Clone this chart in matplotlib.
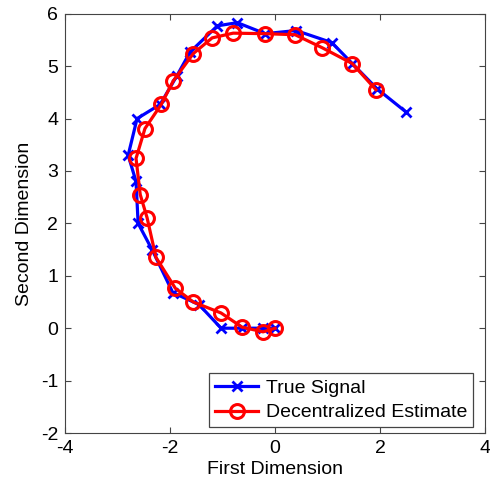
import matplotlib
matplotlib.use("Agg")
import matplotlib.pyplot as plt

# True signal (blue x markers)
true_x = [0.0, -0.23, -0.63, -1.03, -1.45, -1.95, -2.34, -2.61, -2.65, -2.8,
          -2.63, -2.19, -1.87, -1.62, -1.1, -0.72, -0.19, 0.4, 1.08, 1.47, 1.94, 2.5]
true_y = [0.0, 0.0, 0.0, 0.0, 0.45, 0.68, 1.49, 2.0, 2.8, 3.3,
          4.0, 4.27, 4.82, 5.27, 5.77, 5.83, 5.62, 5.68, 5.45, 5.05, 4.57, 4.12]

# Decentralized estimate (red circles)
est_x = [0.0, -0.23, -0.63, -1.03, -1.56, -1.9, -2.27, -2.44, -2.57, -2.65,
         -2.48, -2.17, -1.94, -1.56, -1.2, -0.8, -0.19, 0.38, 0.9, 1.47, 1.92]
est_y = [0.0, -0.07, 0.02, 0.29, 0.5, 0.76, 1.35, 2.11, 2.55, 3.24,
         3.81, 4.27, 4.72, 5.24, 5.54, 5.63, 5.62, 5.6, 5.35, 5.05, 4.55]

plt.rcParams['font.family'] = ['Liberation Sans', 'DejaVu Sans']
plt.rcParams['axes.unicode_minus'] = False

fig = plt.figure(figsize=(4.9, 4.83), dpi=100)
ax = fig.add_axes([0.133, 0.1035, 0.857, 0.868])

ax.plot(true_x, true_y, '-x', color='#0000ff', lw=2.3, ms=7, mew=2.0, label='True Signal')
ax.plot(est_x, est_y, '-o', color='#ff0000', lw=2.3, ms=10, mew=2.2,
        markerfacecolor='none', label='Decentralized Estimate')

ax.set_xlim(-4, 4)
ax.set_ylim(-2, 6)
ax.set_xticks([-4, -2, 0, 2, 4])
ax.set_yticks(range(-2, 7))
ax.tick_params(direction='in', top=True, right=True, labelsize=14, length=4,
               color='#444444', pad=5)
for s in ax.spines.values():
    s.set_color('#444444')
ax.set_xlabel('First Dimension', fontsize=14, labelpad=3)
ax.set_ylabel('Second Dimension', fontsize=14, labelpad=6)

leg = ax.legend(loc='lower right', bbox_to_anchor=(0.971, 0.014), borderaxespad=0,
                fontsize=14, fancybox=False, framealpha=1,
                edgecolor='#444444', borderpad=0.3, handlelength=2.2, handletextpad=0.4,
                labelspacing=0.35)
leg.get_frame().set_linewidth(0.9)

fig.savefig('out.png', dpi=100)
